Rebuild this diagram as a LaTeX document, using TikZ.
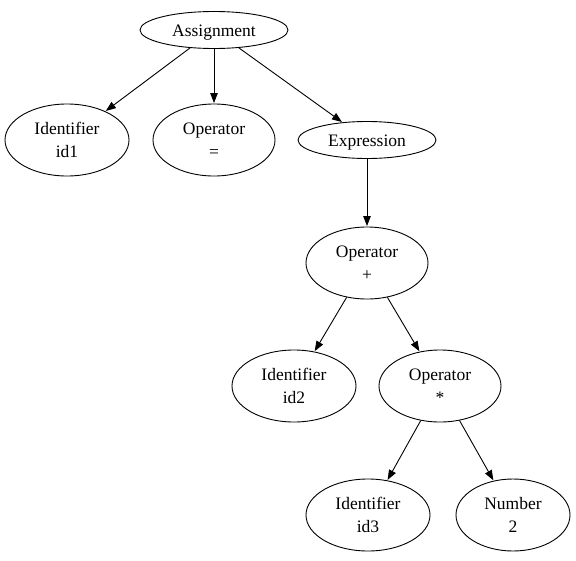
\documentclass[tikz,border=0pt]{standalone}
\usepackage{fontspec}
\setmainfont{Liberation Serif}
\usetikzlibrary{shapes.geometric,arrows.meta}
\tikzset{
  nd/.style={draw, ellipse, line width=0.9pt, inner sep=0pt, align=center, font=\fontsize{17.5}{23}\selectfont},
  edge/.style={draw, line width=0.9pt, -{Triangle[length=10pt,width=7.5pt]}, shorten >=0.5pt}
}
\begin{document}
\begin{tikzpicture}[x=1pt,y=-1pt]
\useasboundingbox (0,0) rectangle (576,560);
\node[nd, minimum width=148pt, minimum height=37pt] (asg) at (214,30) {\raisebox{-6pt}[0pt][0pt]{Assignment}};
\node[nd, minimum width=124pt, minimum height=72pt] (id1) at (67,140) {Identifier\\id1};
\node[nd, minimum width=122pt, minimum height=72pt] (eq) at (214,140) {Operator\\=};
\node[nd, minimum width=138pt, minimum height=37pt] (expr) at (367,140) {\raisebox{-6pt}[0pt][0pt]{Expression}};
\node[nd, minimum width=122pt, minimum height=72pt] (plus) at (367,263) {Operator\\+};
\node[nd, minimum width=124pt, minimum height=72pt] (id2) at (294,386) {Identifier\\id2};
\node[nd, minimum width=122pt, minimum height=72pt] (mul) at (440,386) {Operator\\*};
\node[nd, minimum width=124pt, minimum height=72pt] (id3) at (368,515) {Identifier\\id3};
\node[nd, minimum width=114pt, minimum height=72pt] (num) at (513,515) {Number\\2};
\draw[edge] (asg) -- (id1);
\draw[edge] (asg) -- (eq);
\draw[edge] (asg) -- (expr);
\draw[edge] (expr) -- (plus);
\draw[edge] (plus) -- (id2);
\draw[edge] (plus) -- (mul);
\draw[edge] (mul) -- (id3);
\draw[edge] (mul) -- (num);
\end{tikzpicture}
\end{document}
